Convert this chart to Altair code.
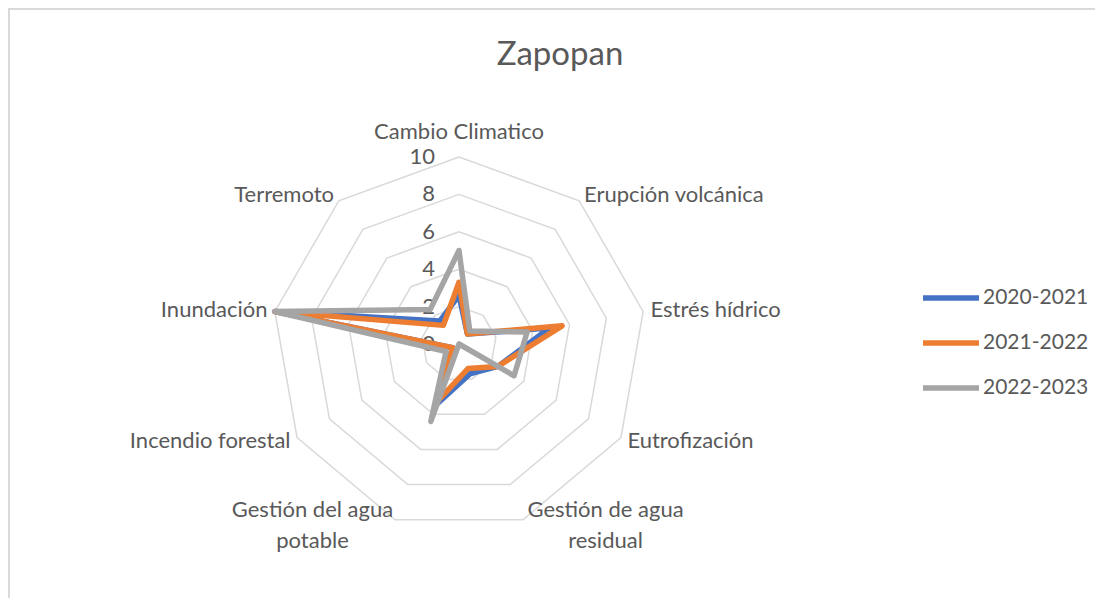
import math
import altair as alt
import pandas as pd

# ---------------- data ----------------
categories = [
    "Cambio Climatico",
    "Erupción volcánica",
    "Estrés hídrico",
    "Eutrofización",
    "Gestión de agua\nresidual",
    "Gestión del agua\npotable",
    "Incendio forestal",
    "Inundación",
    "Terremoto",
]
series_names = ["2020-2021", "2021-2022", "2022-2023"]
values_2020_2021 = [2.6, 0.7, 4.9, 2.4, 1.7, 3.4, 0.4, 10, 1.6]
values_2021_2022 = [3.3, 0.7, 5.6, 2.4, 1.4, 3.2, 0.4, 10, 1.3]
values_2022_2023 = [5.0, 0.9, 3.7, 3.4, 0.0, 4.4, 0.8, 10, 2.4]
tick_values = [0, 2, 4, 6, 8, 10]
colors = ["#4472C4", "#ED7D31", "#A5A5A5"]

# ---------------- geometry helpers ----------------
FONT = "Lato"
TXT = "#595959"
W, H = 1087, 590
PX = 18.7          # pixels per unit
CX, CY = 451, 336  # centre inside plot area
XD = [-CX / PX, (W - CX) / PX]
YD = [-(H - CY) / PX, CY / PX]
RMAX = max(tick_values)

n = len(categories)


def polar(r, i):
    a = math.radians(i * 360.0 / n)
    return r * math.sin(a), r * math.cos(a)


rows = []
for name, vals in zip(series_names, [values_2020_2021, values_2021_2022, values_2022_2023]):
    for k in range(n + 1):
        i = k % n
        x, y = polar(vals[i], i)
        rows.append({"series": name, "k": k, "x": x, "y": y})
series_df = pd.DataFrame(rows)

grid_rows = []
for rv in tick_values[1:]:
    for k in range(n + 1):
        x, y = polar(rv, k % n)
        grid_rows.append({"ring": rv, "k": k, "x": x, "y": y})
grid_df = pd.DataFrame(grid_rows)

tick_df = pd.DataFrame({"x": [0.0] * len(tick_values), "y": tick_values,
                        "label": [str(v) for v in tick_values]})

lab_rows = []
for i, c in enumerate(categories):
    ang = i * 360.0 / n
    if ang == 0:
        grp = "top"
    elif ang < 150:
        grp = "right"
    elif ang < 180:
        grp = "bright"
    elif ang < 210:
        grp = "bleft"
    else:
        grp = "left"
    x, y = polar(RMAX * 1.04, i)
    lab_rows.append({"x": x, "y": y, "label": c, "grp": grp})
lab_df = pd.DataFrame(lab_rows)

xs = alt.Scale(domain=XD, nice=False, zero=False)
ys = alt.Scale(domain=YD, nice=False, zero=False)
X = alt.X("x:Q", scale=xs, axis=None)
Y = alt.Y("y:Q", scale=ys, axis=None)

grid = alt.Chart(grid_df).mark_line(color="#D9D9D9", strokeWidth=1.5).encode(
    x=X, y=Y, detail="ring:N", order="k:Q")

ticks = alt.Chart(tick_df).mark_text(
    font=FONT, fontSize=22, color=TXT, align="right", baseline="middle", dx=-24
).encode(x=X, y=Y, text="label:N")

lines = alt.Chart(series_df).mark_line(strokeWidth=5.5, strokeJoin="round", strokeCap="round").encode(
    x=X, y=Y, order="k:Q",
    color=alt.Color(
        "series:N",
        scale=alt.Scale(domain=series_names, range=colors),
        legend=alt.Legend(
            title=None, orient="none", legendX=912, legendY=259,
            symbolType="stroke", symbolSize=3136, symbolStrokeWidth=5.5,
            labelFont=FONT, labelFontSize=21, labelColor=TXT,
            labelOffset=1, rowPadding=3, labelLimit=300,
        ),
    ),
)


def labels(grp, align, dx=0, dy=0):
    return alt.Chart(lab_df).transform_filter(alt.datum.grp == grp).mark_text(
        font=FONT, fontSize=22, color=TXT, align=align, baseline="middle",
        dx=dx, dy=dy, lineBreak="\n", lineHeight=31,
    ).encode(x=X, y=Y, text="label:N")


lab_layers = [
    labels("top", "center", dy=-18),
    labels("right", "left"),
    labels("left", "right"),
    labels("bright", "center", dx=80, dy=-17),
    labels("bleft", "center", dx=-80, dy=-17),
]

frame_top = alt.Chart(tick_df).mark_rule(color="#D9D9D9", strokeWidth=1.5).encode(
    x=alt.value(0), x2=alt.value(W), y=alt.value(0.75))
frame_left = alt.Chart(tick_df).mark_rule(color="#D9D9D9", strokeWidth=1.5).encode(
    x=alt.value(0.75), y=alt.value(0), y2=alt.value(H))

chart = alt.layer(frame_top, frame_left, grid, ticks, lines, *lab_layers).properties(
    width=W, height=H,
    title=alt.TitleParams("Zapopan", font=FONT, fontSize=33, fontWeight="normal", color=TXT,
                          anchor="middle", frame="group", offset=0, baseline="middle", dy=81, dx=8.5),
    autosize=alt.AutoSizeParams(type="none"),
    padding=0,
).configure_view(stroke=None)

chart.save("out.html", embed_options={"renderer": "svg", "actions": False})
